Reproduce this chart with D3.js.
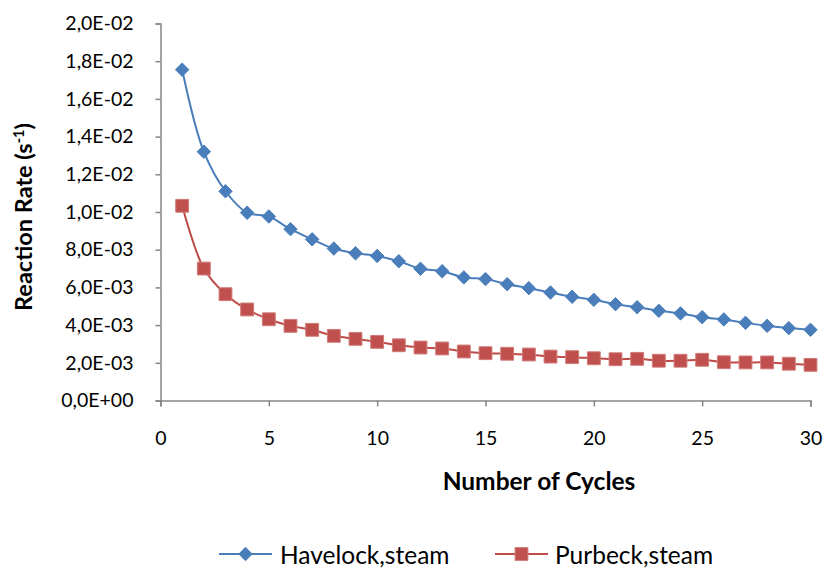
<!DOCTYPE html>
<html>
<head>
<meta charset="utf-8">
<script src="https://cdn.jsdelivr.net/npm/d3@7"></script>
<style>
  body { margin: 0; background: #fff; }
  svg { display: block; }
  text { font-family: Lato, "Open Sans", sans-serif; fill: #000; }
</style>
</head>
<body>
<svg id="chart" width="830" height="571"></svg>
<script>
// Number of cycles
const cycles = d3.range(1, 31);

// Reaction rate per cycle (s^-1)
const havelockSteam = [
  0.01755, 0.01320, 0.01110, 0.00996, 0.00976, 0.00909, 0.00855, 0.00806, 0.00781, 0.00767,
  0.00739, 0.00699, 0.00686, 0.00653, 0.00644, 0.00617, 0.00596, 0.00573, 0.00550, 0.00534,
  0.00511, 0.00495, 0.00476, 0.00462, 0.00442, 0.00430, 0.00412, 0.00396, 0.00384, 0.00375
];
const purbeckSteam = [
  0.01033, 0.00700, 0.00564, 0.00483, 0.00431, 0.00396, 0.00375, 0.00343, 0.00327, 0.00311,
  0.00293, 0.00281, 0.00276, 0.00260, 0.00251, 0.00248, 0.00244, 0.00233, 0.00230, 0.00224,
  0.00219, 0.00221, 0.00211, 0.00211, 0.00216, 0.00203, 0.00202, 0.00202, 0.00195, 0.00189
];

const seriesNames = ["Havelock,steam", "Purbeck,steam"];
const xTicks = [0, 5, 10, 15, 20, 25, 30];
const yTicks = [0, 0.002, 0.004, 0.006, 0.008, 0.010, 0.012, 0.014, 0.016, 0.018, 0.020];
const yTickLabels = ["0,0E+00", "2,0E-03", "4,0E-03", "6,0E-03", "8,0E-03", "1,0E-02",
                     "1,2E-02", "1,4E-02", "1,6E-02", "1,8E-02", "2,0E-02"];

const svg = d3.select("#chart");
const plot = { left: 160.5, right: 810.5, top: 23.5, bottom: 400.5 };

const x = d3.scaleLinear().domain([0, 30]).range([plot.left, plot.right]);
const y = d3.scaleLinear().domain([0, 0.02]).range([plot.bottom, plot.top]);

const axisColor = "#868686";

// Y axis
const yAxis = svg.append("g")
  .attr("transform", `translate(${plot.left},0)`)
  .call(d3.axisLeft(y).tickValues(yTicks).tickSize(5).tickPadding(22)
    .tickFormat((d, i) => yTickLabels[i]));
yAxis.select(".domain").attr("stroke", axisColor).attr("stroke-width", 1.5);
yAxis.selectAll(".tick line").attr("stroke", axisColor).attr("stroke-width", 1.5);
yAxis.selectAll(".tick text").style("font-size", "19.5px").attr("fill", "#000");

// X axis
const xAxis = svg.append("g")
  .attr("transform", `translate(0,${plot.bottom})`)
  .call(d3.axisBottom(x).tickValues(xTicks).tickSize(6).tickPadding(25));
xAxis.select(".domain").attr("stroke", axisColor).attr("stroke-width", 1.5);
xAxis.selectAll(".tick line").attr("stroke", axisColor).attr("stroke-width", 1.5);
xAxis.selectAll(".tick text").style("font-size", "19.5px").attr("fill", "#000");

// Axis titles
svg.append("text")
  .attr("x", 539).attr("y", 490)
  .attr("text-anchor", "middle")
  .style("font-size", "24.5px").style("font-weight", "bold")
  .text("Number of Cycles");

const yTitle = svg.append("text")
  .attr("transform", "translate(32,217) rotate(-90)")
  .attr("text-anchor", "middle")
  .style("font-size", "23.5px").style("font-weight", "bold");
yTitle.append("tspan").text("Reaction Rate (s");
yTitle.append("tspan").attr("dy", -8).style("font-size", "14.5px").text("-1");
yTitle.append("tspan").attr("dy", 8).text(")");

// Series
const series = [
  { name: seriesNames[0], values: havelockSteam, line: "#4A7EBB", fill: "#4A7EBB", marker: "diamond" },
  { name: seriesNames[1], values: purbeckSteam, line: "#BE4B48", fill: "#C0504D", marker: "square" }
];

const line = d3.line()
  .x((d, i) => x(cycles[i]))
  .y(d => y(d))
  .curve(d3.curveCatmullRom.alpha(0.5));

const diamond = d3.symbol().type(d3.symbolDiamond2).size(115);
const square = d3.symbol().type(d3.symbolSquare2).size(210);

function drawMarker(sel, s) {
  if (s.marker === "diamond") {
    sel.append("path").attr("d", diamond())
      .attr("fill", s.fill).attr("stroke", s.fill).attr("stroke-width", 1);
  } else {
    sel.append("path").attr("d", square())
      .attr("fill", s.fill).attr("stroke", "#d07a78").attr("stroke-width", 1);
  }
}

series.forEach(s => {
  svg.append("path")
    .datum(s.values)
    .attr("fill", "none")
    .attr("stroke", s.line)
    .attr("stroke-width", 2)
    .attr("d", line);
  s.values.forEach((v, i) => {
    const g = svg.append("g").attr("transform", `translate(${x(cycles[i])},${y(v)})`);
    drawMarker(g, s);
  });
});

// Legend
const legendItems = [
  { s: series[0], x0: 219, tx: 280 },
  { s: series[1], x0: 495, tx: 555 }
];
legendItems.forEach(({ s, x0, tx }) => {
  const ly = 554;
  svg.append("line")
    .attr("x1", x0).attr("x2", x0 + 53).attr("y1", ly).attr("y2", ly)
    .attr("stroke", s.line).attr("stroke-width", 2);
  const g = svg.append("g").attr("transform", `translate(${x0 + 26.5},${ly})`);
  drawMarker(g, s);
  svg.append("text")
    .attr("x", tx).attr("y", ly + 10)
    .style("font-size", "24.5px")
    .text(s.name);
});
</script>
</body>
</html>
